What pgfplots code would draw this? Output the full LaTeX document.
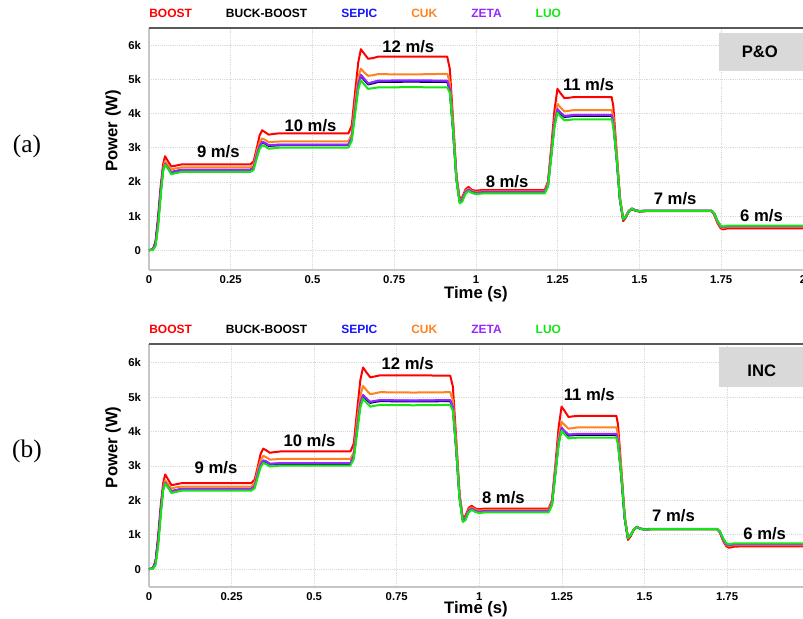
\documentclass[border=0pt]{standalone}
\usepackage{pgfplots}
\pgfplotsset{compat=1.18}
\usepackage{pgfplotstable}
\usepackage{fontspec}
\setmainfont{Liberation Sans}
\newfontfamily\seriffont{Liberation Serif}

\definecolor{cRed}{RGB}{255,0,0}
\definecolor{cBlk}{RGB}{0,0,0}
\definecolor{cBlue}{RGB}{20,20,255}
\definecolor{cOrg}{RGB}{255,130,30}
\definecolor{cPur}{RGB}{150,40,255}
\definecolor{cGrn}{RGB}{20,230,20}
\definecolor{boxgray}{RGB}{217,217,217}

% P&O  (power in kW; columns: BOOST, BUCK-BOOST, SEPIC, CUK, ZETA, LUO)
\pgfplotstableread{
t r k b o p g
0 0 0 0 0 0 0
0.012 0.03 0.02 0.02 0.02 0.02 0.01
0.02 0.25 0.2 0.2 0.15 0.2 0.12
0.028 1.0 0.85 0.85 0.75 0.85 0.7
0.036 1.9 1.75 1.75 1.7 1.75 1.6
0.043 2.5 2.35 2.35 2.38 2.36 2.3
0.049 2.75 2.52 2.52 2.6 2.53 2.5
0.057 2.62 2.42 2.41 2.5 2.42 2.4
0.068 2.45 2.28 2.27 2.36 2.28 2.22
0.08 2.47 2.31 2.3 2.39 2.31 2.25
0.1 2.51 2.35 2.34 2.42 2.35 2.29
0.31 2.51 2.35 2.34 2.42 2.35 2.29
0.32 2.6 2.42 2.42 2.5 2.42 2.35
0.33 3.0 2.8 2.8 2.9 2.8 2.7
0.338 3.35 3.05 3.05 3.15 3.05 2.95
0.346 3.51 3.15 3.16 3.27 3.17 3.07
0.355 3.45 3.12 3.13 3.23 3.14 3.04
0.366 3.38 3.05 3.06 3.16 3.07 2.97
0.38 3.4 3.06 3.07 3.17 3.08 2.98
0.4 3.42 3.07 3.08 3.18 3.09 3.0
0.61 3.42 3.07 3.08 3.18 3.09 3.0
0.62 3.65 3.3 3.3 3.4 3.3 3.2
0.63 4.6 4.1 4.1 4.3 4.1 3.95
0.64 5.5 4.85 4.85 5.05 4.87 4.7
0.648 5.88 5.1 5.12 5.31 5.13 4.97
0.658 5.75 4.98 5.0 5.2 5.02 4.85
0.67 5.6 4.85 4.87 5.1 4.88 4.72
0.685 5.62 4.88 4.9 5.12 4.92 4.74
0.7 5.66 4.92 4.94 5.15 4.96 4.76
0.8 5.66 4.93 4.95 5.14 4.97 4.77
0.912 5.66 4.92 4.94 5.16 4.96 4.76
0.92 5.3 4.7 4.7 4.9 4.72 4.6
0.93 3.8 3.5 3.5 3.7 3.5 3.5
0.94 2.2 2.1 2.1 2.2 2.1 2.05
0.95 1.5 1.42 1.42 1.45 1.42 1.37
0.958 1.55 1.47 1.47 1.5 1.47 1.42
0.968 1.78 1.7 1.7 1.73 1.7 1.65
0.977 1.85 1.77 1.76 1.8 1.77 1.73
0.988 1.76 1.71 1.7 1.73 1.71 1.67
1.0 1.74 1.68 1.67 1.7 1.68 1.64
1.02 1.76 1.7 1.69 1.72 1.7 1.66
1.21 1.76 1.7 1.69 1.72 1.7 1.66
1.22 2.0 1.9 1.9 1.95 1.9 1.85
1.23 3.0 2.8 2.8 2.9 2.8 2.7
1.24 4.1 3.7 3.7 3.8 3.72 3.6
1.249 4.72 4.1 4.12 4.28 4.13 4.02
1.258 4.6 4.0 4.02 4.18 4.03 3.92
1.27 4.45 3.9 3.92 4.06 3.93 3.8
1.285 4.46 3.91 3.93 4.08 3.94 3.81
1.3 4.48 3.93 3.95 4.1 3.96 3.83
1.415 4.48 3.93 3.95 4.1 3.96 3.83
1.42 4.2 3.7 3.72 3.9 3.73 3.6
1.43 2.9 2.7 2.7 2.9 2.7 2.7
1.44 1.5 1.5 1.5 1.6 1.5 1.5
1.45 0.85 0.9 0.9 0.92 0.9 0.9
1.458 0.95 0.98 0.98 1.0 0.98 0.98
1.468 1.15 1.15 1.15 1.16 1.15 1.15
1.477 1.2 1.21 1.21 1.22 1.22 1.21
1.488 1.15 1.16 1.16 1.17 1.17 1.16
1.5 1.13 1.14 1.14 1.14 1.15 1.14
1.52 1.14 1.15 1.15 1.15 1.16 1.15
1.72 1.14 1.15 1.15 1.15 1.16 1.15
1.728 1.05 1.08 1.08 1.07 1.08 1.09
1.738 0.8 0.85 0.85 0.83 0.85 0.87
1.748 0.64 0.7 0.7 0.68 0.7 0.72
1.756 0.61 0.67 0.67 0.65 0.67 0.69
1.77 0.64 0.7 0.7 0.68 0.7 0.72
1.79 0.64 0.7 0.7 0.68 0.7 0.72
2.0 0.64 0.7 0.7 0.68 0.7 0.72
}\dataA

% INC
\pgfplotstableread{
t r k b o p g
0 0 0 0 0 0 0
0.012 0.03 0.02 0.02 0.02 0.02 0.01
0.02 0.25 0.2 0.2 0.15 0.2 0.12
0.028 1.0 0.85 0.85 0.75 0.85 0.7
0.036 1.9 1.75 1.75 1.7 1.75 1.6
0.043 2.5 2.35 2.35 2.38 2.36 2.3
0.049 2.75 2.5 2.5 2.58 2.51 2.48
0.057 2.62 2.4 2.39 2.48 2.4 2.38
0.068 2.44 2.26 2.25 2.34 2.26 2.21
0.08 2.46 2.29 2.28 2.37 2.29 2.24
0.1 2.5 2.33 2.32 2.4 2.33 2.28
0.31 2.5 2.33 2.32 2.4 2.33 2.28
0.32 2.6 2.42 2.42 2.5 2.42 2.35
0.33 3.0 2.8 2.8 2.9 2.8 2.7
0.338 3.35 3.04 3.04 3.16 3.05 2.96
0.346 3.5 3.14 3.15 3.29 3.16 3.08
0.355 3.45 3.11 3.12 3.25 3.13 3.05
0.366 3.38 3.04 3.05 3.18 3.06 2.98
0.38 3.4 3.05 3.06 3.19 3.07 2.99
0.4 3.42 3.06 3.07 3.2 3.08 3.01
0.61 3.42 3.06 3.07 3.2 3.08 3.01
0.62 3.65 3.3 3.3 3.4 3.3 3.2
0.63 4.6 4.1 4.1 4.3 4.1 3.95
0.64 5.5 4.82 4.83 5.05 4.84 4.7
0.648 5.86 5.03 5.05 5.32 5.06 4.95
0.658 5.72 4.93 4.95 5.2 4.96 4.84
0.67 5.57 4.83 4.85 5.08 4.86 4.72
0.685 5.6 4.86 4.88 5.11 4.89 4.75
0.7 5.63 4.88 4.9 5.14 4.91 4.77
0.8 5.63 4.87 4.89 5.13 4.9 4.76
0.912 5.62 4.88 4.9 5.14 4.91 4.77
0.92 5.3 4.7 4.7 4.9 4.72 4.6
0.93 3.8 3.5 3.5 3.7 3.5 3.5
0.94 2.2 2.1 2.1 2.2 2.1 2.05
0.95 1.48 1.42 1.42 1.45 1.42 1.37
0.958 1.55 1.47 1.47 1.5 1.47 1.42
0.968 1.78 1.7 1.7 1.73 1.7 1.65
0.977 1.84 1.76 1.75 1.79 1.76 1.72
0.988 1.76 1.7 1.69 1.73 1.7 1.66
1.0 1.74 1.67 1.66 1.7 1.67 1.63
1.02 1.76 1.69 1.68 1.72 1.69 1.65
1.21 1.76 1.69 1.68 1.72 1.69 1.65
1.22 2.0 1.9 1.9 1.95 1.9 1.85
1.23 3.0 2.8 2.8 2.9 2.8 2.7
1.24 4.1 3.68 3.7 3.82 3.7 3.6
1.249 4.72 4.08 4.1 4.28 4.11 4.02
1.258 4.6 3.98 4.0 4.19 4.01 3.92
1.27 4.42 3.88 3.9 4.08 3.91 3.8
1.285 4.44 3.89 3.91 4.1 3.92 3.81
1.3 4.45 3.9 3.92 4.12 3.93 3.82
1.415 4.45 3.9 3.92 4.12 3.93 3.82
1.42 4.2 3.7 3.72 3.9 3.73 3.6
1.43 2.9 2.7 2.7 2.9 2.7 2.7
1.44 1.5 1.5 1.5 1.6 1.5 1.5
1.45 0.85 0.9 0.9 0.92 0.9 0.9
1.458 0.95 0.98 0.98 1.0 0.98 0.98
1.468 1.15 1.15 1.15 1.16 1.15 1.15
1.477 1.22 1.22 1.22 1.23 1.23 1.22
1.488 1.17 1.17 1.17 1.18 1.18 1.17
1.5 1.15 1.15 1.15 1.15 1.16 1.15
1.52 1.16 1.16 1.16 1.16 1.17 1.16
1.72 1.16 1.16 1.16 1.16 1.17 1.16
1.728 1.07 1.09 1.09 1.08 1.09 1.1
1.738 0.82 0.87 0.87 0.85 0.87 0.9
1.748 0.66 0.72 0.72 0.7 0.72 0.75
1.756 0.62 0.69 0.69 0.67 0.69 0.72
1.77 0.65 0.72 0.72 0.7 0.72 0.75
1.79 0.66 0.72 0.72 0.7 0.72 0.75
2.0 0.66 0.72 0.72 0.7 0.72 0.75
}\dataB

\tikzset{spd/.style={font=\bfseries\fontsize{12.5}{14}\selectfont}}

\pgfplotsset{
  pvstyle/.style={
    scale only axis, width=490.5pt, xmin=0, clip=false,
    ytick={0,1,2,3,4,5,6}, yticklabels={0,1k,2k,3k,4k,5k,6k},
    grid=major, major grid style={gray!30, densely dotted},
    major tick length=0pt,
    axis line style={draw=none},
    tick label style={font=\bfseries\fontsize{8.5}{10}\selectfont},
    yticklabel style={xshift=-2.5pt},
    xticklabel style={yshift=-1pt},
    xlabel={Time (s)}, ylabel={Power (W)},
    label style={font=\bfseries\fontsize{12.5}{14}\selectfont},
    xlabel style={at={(axis description cs:0.5,0)}, anchor=center},
    ylabel style={at={(axis description cs:-0.055,0.575)}, anchor=center},
    legend image code/.code={},
    legend columns=6,
    legend style={at={(0,1)}, anchor=south west, yshift=6pt, draw=none, fill=none,
      inner sep=0pt, font=\bfseries\fontsize{9}{10}\selectfont,
      nodes={inner sep=0pt},
      /tikz/every even column/.append style={column sep=25.5pt}},
    every axis plot/.append style={line width=1.5pt, line join=round},
  },
}

\begin{document}
\begin{tikzpicture}
\useasboundingbox (0,0) rectangle (602.25pt,-463.5pt);

\node[font=\seriffont\fontsize{19}{22}\selectfont] at (20.25pt,-109.5pt) {(a)};
\node[font=\seriffont\fontsize{19}{22}\selectfont] at (20.25pt,-338.25pt) {(b)};

% (a) P&O
\begin{axis}[pvstyle, at={(111.75pt,-202.5pt)}, anchor=south west,
  height=181.5pt, xmax=2, ymin=-0.58, ymax=6.5,
  xtick={0,0.25,0.5,0.75,1,1.25,1.5,1.75,2},
  xticklabels={0,0.25,0.5,0.75,1,1.25,1.5,1.75,2},
  xlabel style={yshift=-18pt}]
\draw[gray!45, line width=0.8pt] (rel axis cs:0,0) -- (rel axis cs:0,1);
\draw[gray!45, line width=0.8pt] (rel axis cs:0,0) -- (rel axis cs:1,0);
\addplot[cRed] table[x=t,y=r]{\dataA}; \addlegendentry{\textcolor{cRed}{BOOST}}
\addplot[cBlk] table[x=t,y=k]{\dataA}; \addlegendentry{\textcolor{cBlk}{BUCK-BOOST}}
\addplot[cBlue] table[x=t,y=b]{\dataA}; \addlegendentry{\textcolor{cBlue}{SEPIC}}
\addplot[cOrg] table[x=t,y=o]{\dataA}; \addlegendentry{\textcolor{cOrg}{CUK}}
\addplot[cPur] table[x=t,y=p]{\dataA}; \addlegendentry{\textcolor{cPur}{ZETA}}
\addplot[cGrn] table[x=t,y=g]{\dataA}; \addlegendentry{\textcolor{cGrn}{LUO}}
\draw[black!65, line width=0.8pt] (rel axis cs:0,1) -- (rel axis cs:1.02,1);
\node[spd] at (axis cs:0.212,2.87) {9 m/s};
\node[spd] at (axis cs:0.494,3.65) {10 m/s};
\node[spd] at (axis cs:0.793,5.96) {12 m/s};
\node[spd] at (axis cs:1.095,2.02) {8 m/s};
\node[spd] at (axis cs:1.344,4.85) {11 m/s};
\node[spd] at (axis cs:1.609,1.51) {7 m/s};
\node[spd] at (axis cs:1.873,1.0) {6 m/s};
\fill[boxgray] (axis description cs:0.8716,0.822) rectangle (axis description cs:1.03,0.979);
\node[spd] at (axis description cs:0.934,0.901) {P\&O};
\end{axis}

% (b) INC
\begin{axis}[pvstyle, at={(111.75pt,-440.25pt)}, anchor=south west,
  height=182.25pt, xmax=1.98, ymin=-0.52, ymax=6.54,
  xtick={0,0.25,0.5,0.75,1,1.25,1.5,1.75},
  xticklabels={0,0.25,0.5,0.75,1,1.25,1.5,1.75},
  xlabel style={yshift=-16.5pt}]
\draw[gray!45, line width=0.8pt] (rel axis cs:0,0) -- (rel axis cs:0,1);
\draw[gray!45, line width=0.8pt] (rel axis cs:0,0) -- (rel axis cs:1,0);
\addplot[cRed] table[x=t,y=r]{\dataB}; \addlegendentry{\textcolor{cRed}{BOOST}}
\addplot[cBlk] table[x=t,y=k]{\dataB}; \addlegendentry{\textcolor{cBlk}{BUCK-BOOST}}
\addplot[cBlue] table[x=t,y=b]{\dataB}; \addlegendentry{\textcolor{cBlue}{SEPIC}}
\addplot[cOrg] table[x=t,y=o]{\dataB}; \addlegendentry{\textcolor{cOrg}{CUK}}
\addplot[cPur] table[x=t,y=p]{\dataB}; \addlegendentry{\textcolor{cPur}{ZETA}}
\addplot[cGrn] table[x=t,y=g]{\dataB}; \addlegendentry{\textcolor{cGrn}{LUO}}
\draw[black!65, line width=0.8pt] (rel axis cs:0,1) -- (rel axis cs:1.03,1);
\node[spd] at (axis cs:0.203,2.94) {9 m/s};
\node[spd] at (axis cs:0.486,3.72) {10 m/s};
\node[spd] at (axis cs:0.783,5.96) {12 m/s};
\node[spd] at (axis cs:1.073,2.08) {8 m/s};
\node[spd] at (axis cs:1.333,5.06) {11 m/s};
\node[spd] at (axis cs:1.588,1.56) {7 m/s};
\node[spd] at (axis cs:1.864,1.03) {6 m/s};
\fill[boxgray] (axis description cs:0.8716,0.823) rectangle (axis description cs:1.03,0.988);
\node[spd] at (axis description cs:0.937,0.89) {INC};
\end{axis}
\end{tikzpicture}
\end{document}
